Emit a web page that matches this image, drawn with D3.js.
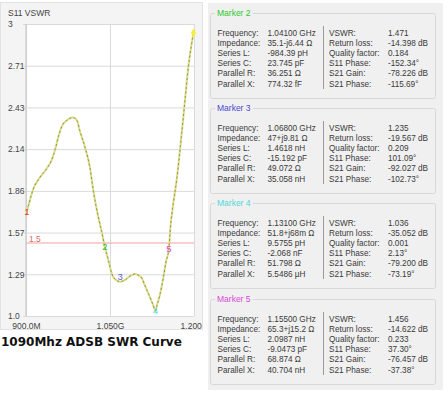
<!DOCTYPE html>
<html>
<head>
<meta charset="utf-8">
<script src="https://cdn.jsdelivr.net/npm/d3@7/dist/d3.min.js"></script>
<style>
  body { margin: 0; background: #fff; }
  svg { display: block; }
</style>
</head>
<body>
<div id="chart"></div>
<script>
// S11 VSWR curve
const freqMHz = [900, 906, 913, 925, 937, 946, 952, 958, 964, 973, 984, 991, 996, 1005, 1014, 1021, 1029, 1035,
  1041, 1047, 1053, 1059, 1068, 1077, 1086, 1095, 1100, 1107, 1112, 1121, 1127, 1131, 1134, 1139, 1145, 1150,
  1155, 1158, 1163, 1169, 1178, 1184, 1190, 1196, 1199];
const vswr = [1.69, 1.78, 1.87, 1.95, 2.01, 2.07, 2.14, 2.23, 2.30, 2.34, 2.36, 2.34, 2.27, 2.16, 2.02, 1.84, 1.68, 1.58,
  1.471, 1.384, 1.292, 1.251, 1.235, 1.247, 1.274, 1.288, 1.281, 1.258, 1.212, 1.132, 1.075, 1.036, 1.075, 1.144, 1.258, 1.372,
  1.456, 1.61, 1.77, 1.93, 2.25, 2.48, 2.71, 2.87, 2.94];

const yTickValues = [1, 1.2857, 1.5714, 1.8571, 2.1429, 2.4286, 2.7143, 3];
const yTickLabels = ['1.0', '1.29', '1.57', '1.86', '2.14', '2.43', '2.71', '3'];
const xTickValues = [900, 1050, 1200];
const xTickLabels = ['900.0M', '1.050G', '1.200G'];
const limitValue = 1.5;

const markerIds = ['1', '2', '3', '4', '5'];
const markerFreq = [900, 1041, 1068, 1131, 1155];
const markerVswr = [1.69, 1.471, 1.235, 1.036, 1.456];
const markerColors = ['#ee4a3a', '#2ec82e', '#5a5ad8', '#4fd8d8', '#d848d8'];

// marker info panels
const panelTitles = ['Marker 2', 'Marker 3', 'Marker 4', 'Marker 5'];
const panelColors = ['#2ec82e', '#4848d0', '#4fd8d8', '#d848d8'];
const leftLabels = ['Frequency:', 'Impedance:', 'Series L:', 'Series C:', 'Parallel R:', 'Parallel X:'];
const rightLabels = ['VSWR:', 'Return loss:', 'Quality factor:', 'S11 Phase:', 'S21 Gain:', 'S21 Phase:'];
const marker2Left = ['1.04100 GHz', '35.1-j6.44 Ω', '-984.39 pH', '23.745 pF', '36.251 Ω', '774.32 fF'];
const marker2Right = ['1.471', '-14.398 dB', '0.184', '-152.34°', '-78.226 dB', '-115.69°'];
const marker3Left = ['1.06800 GHz', '47+j9.81 Ω', '1.4618 nH', '-15.192 pF', '49.072 Ω', '35.058 nH'];
const marker3Right = ['1.235', '-19.567 dB', '0.209', '101.09°', '-92.027 dB', '-102.73°'];
const marker4Left = ['1.13100 GHz', '51.8+j68m Ω', '9.5755 pH', '-2.068 nF', '51.798 Ω', '5.5486 µH'];
const marker4Right = ['1.036', '-35.052 dB', '0.001', '2.13°', '-79.200 dB', '-73.19°'];
const marker5Left = ['1.15500 GHz', '65.3+j15.2 Ω', '2.0987 nH', '-9.0473 pF', '68.874 Ω', '40.704 nH'];
const marker5Right = ['1.456', '-14.622 dB', '0.233', '37.30°', '-76.457 dB', '-37.38°'];
const panelLeftValues = [marker2Left, marker3Left, marker4Left, marker5Left];
const panelRightValues = [marker2Right, marker3Right, marker4Right, marker5Right];

const W = 448, H = 398;
const svg = d3.select('#chart').append('svg').attr('width', W).attr('height', H);
const font = 'Liberation Sans, Arial, sans-serif';

// ---- left chart ----
const plot = { left: 26, right: 194, top: 24, bottom: 316 };
svg.append('rect').attr('x', 0.5).attr('y', 2.5).attr('width', 202).attr('height', 327)
  .attr('fill', '#f4f4f4').attr('stroke', '#e2e2e2');
svg.append('rect').attr('x', plot.left).attr('y', plot.top)
  .attr('width', plot.right - plot.left).attr('height', plot.bottom - plot.top).attr('fill', '#fff');

svg.append('defs').append('clipPath').attr('id', 'leftclip')
  .append('rect').attr('x', 0).attr('y', 0).attr('width', 202).attr('height', 330);

const x = d3.scaleLinear().domain([900, 1200]).range([plot.left, plot.right]);
const y = d3.scaleLinear().domain([1, 3]).range([plot.bottom, plot.top]);

const g = svg.append('g').attr('clip-path', 'url(#leftclip)');

g.append('text').attr('x', 8).attr('y', 16).attr('font-family', font).attr('font-size', 8.5)
  .attr('fill', '#444').text('S11 VSWR');

const yAxis = g.append('g').attr('transform', `translate(${plot.left},0)`)
  .call(d3.axisLeft(y).tickValues(yTickValues).tickSize(3).tickFormat((d, i) => yTickLabels[i]));
yAxis.select('.domain').remove();
yAxis.selectAll('.tick line').attr('x1', -3).attr('x2', plot.right - plot.left).attr('stroke', '#dadada');
yAxis.selectAll('.tick text').attr('x', 8 - plot.left).attr('text-anchor', 'start')
  .attr('font-family', font).attr('font-size', 8.5).attr('fill', '#444');

const xAxis = g.append('g').attr('transform', `translate(0,${plot.bottom})`)
  .call(d3.axisBottom(x).tickValues(xTickValues).tickSize(0).tickFormat((d, i) => xTickLabels[i]));
xAxis.select('.domain').remove();
xAxis.selectAll('.tick line').attr('y1', 0).attr('y2', plot.top - plot.bottom).attr('stroke', '#dadada');
xAxis.selectAll('.tick text').attr('y', 7).attr('font-family', font).attr('font-size', 8.5).attr('fill', '#444');
g.append('line').attr('x1', plot.left).attr('x2', plot.left).attr('y1', plot.top).attr('y2', plot.bottom)
  .attr('stroke', '#c4c4c4');

// limit line
g.append('line').attr('x1', plot.left).attr('x2', plot.right)
  .attr('y1', y(limitValue)).attr('y2', y(limitValue)).attr('stroke', '#f0a0a0');
g.append('text').attr('x', plot.left + 3).attr('y', y(limitValue) - 1).attr('font-family', font)
  .attr('font-size', 8.5).attr('fill', '#e06a6a').text('1.5');

const pts = freqMHz.map((f, i) => [f, vswr[i]]);
const line = d3.line().x(d => x(d[0])).y(d => y(d[1])).curve(d3.curveMonotoneX);
g.append('path').attr('d', line(pts)).attr('fill', 'none').attr('stroke', '#dcdc8a').attr('stroke-width', 2);
g.append('path').attr('d', line(pts)).attr('fill', 'none').attr('stroke', '#8a8a48')
  .attr('stroke-width', 0.9).attr('stroke-dasharray', '2,2.5');

// end point cursor
const last = pts[pts.length - 1];
g.append('path').attr('d', d3.symbol(d3.symbolDiamond, 22)())
  .attr('transform', `translate(${x(last[0])},${y(last[1])})`).attr('fill', '#f4f03a');

g.selectAll('.mk').data(markerIds).enter().append('text')
  .attr('x', (d, i) => x(markerFreq[i]) + (i === 0 ? 1 : 0))
  .attr('y', (d, i) => y(markerVswr[i]) + (i === 0 ? 0 : i === 2 ? -2 : 3))
  .attr('text-anchor', 'middle').attr('font-family', font).attr('font-size', 9.5)
  .attr('fill', (d, i) => markerColors[i]).text(d => d);

svg.append('text').attr('x', 1).attr('y', 346).attr('font-family', 'DejaVu Sans, sans-serif')
  .attr('font-weight', 'bold').attr('font-size', 12).attr('fill', '#111').text('1090Mhz ADSB SWR Curve');

// ---- right panel ----
svg.append('rect').attr('x', 208).attr('y', 3).attr('width', 235).attr('height', 387).attr('fill', '#f0f0f0');

const boxTop = [13, 108, 203, 299];
const boxH = 85;
panelTitles.forEach((title, i) => {
  const gb = svg.append('g').attr('transform', `translate(0,${boxTop[i]})`);
  gb.append('rect').attr('x', 210.5).attr('y', 0.5).attr('width', 225).attr('height', boxH)
    .attr('rx', 2).attr('fill', 'none').attr('stroke', '#d8d8d8');
  const t = gb.append('text').attr('x', 217).attr('y', 3).attr('font-family', font).attr('font-size', 8.5)
    .attr('fill', panelColors[i]).text(title);
  const bb = t.node().getBBox();
  gb.insert('rect', 'text').attr('x', bb.x - 2).attr('y', -2).attr('width', bb.width + 4).attr('height', 5)
    .attr('fill', '#f0f0f0');
  gb.append('line').attr('x1', 323.5).attr('x2', 323.5).attr('y1', 13).attr('y2', 76).attr('stroke', '#999');
  const rows = d3.range(leftLabels.length);
  const ty = r => 23 + r * 10.1;
  const cols = [
    { x: 217.5, vals: leftLabels },
    { x: 267.5, vals: panelLeftValues[i] },
    { x: 329, vals: rightLabels },
    { x: 388, vals: panelRightValues[i] }
  ];
  cols.forEach(c => {
    gb.selectAll(null).data(rows).enter().append('text')
      .attr('x', c.x).attr('y', r => ty(r)).attr('font-family', font).attr('font-size', 8.2)
      .attr('fill', '#3a3a3a').text(r => c.vals[r]);
  });
});
</script>
</body>
</html>
